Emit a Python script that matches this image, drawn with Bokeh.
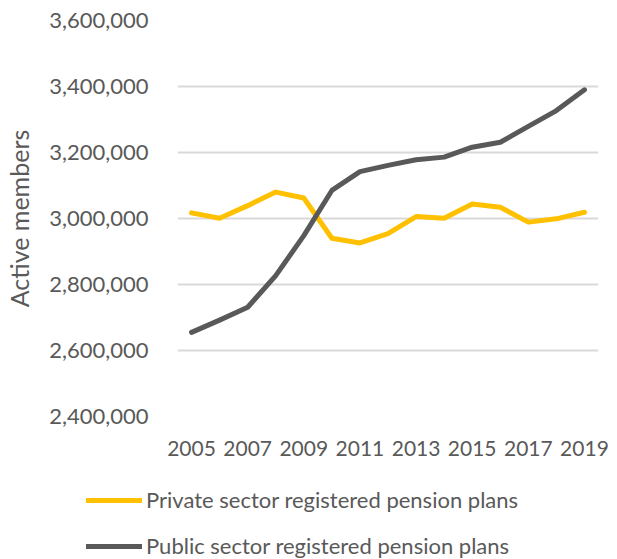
from bokeh.plotting import figure
from bokeh.layouts import column
from bokeh.models import FixedTicker, Legend, LegendItem, NumeralTickFormatter, Range1d
from bokeh.embed import file_html
from bokeh.resources import INLINE

years = [2005, 2006, 2007, 2008, 2009, 2010, 2011, 2012, 2013, 2014, 2015, 2016, 2017, 2018, 2019]
private = [3017000, 3001000, 3039000, 3080000, 3062000, 2940000, 2926000, 2954000, 3006000,
           3001000, 3044000, 3034000, 2989000, 2999000, 3019000]
public = [2655000, 2692000, 2731000, 2827000, 2948000, 3085000, 3142000, 3161000, 3178000,
          3186000, 3216000, 3231000, 3279000, 3327000, 3390000]
year_ticks = [2005, 2007, 2009, 2011, 2013, 2015, 2017, 2019]
y_ticks = [2400000, 2600000, 2800000, 3000000, 3200000, 3400000, 3600000]
series_names = ["Private sector registered pension plans", "Public sector registered pension plans"]
series_colors = ["#FFC000", "#595959"]

FONT = "Lato"
GREY = "#595959"

p = figure(width=609, height=475, output_backend="svg", toolbar_location=None,
           x_range=Range1d(2004.5, 2019.5), y_range=Range1d(2400000, 3600000),
           min_border_left=177, min_border_right=11, min_border_top=20, min_border_bottom=59)
p.outline_line_color = None
p.background_fill_color = "white"

p.line(years, private, line_color=series_colors[0], line_width=5, line_join="round", line_cap="round")
p.line(years, public, line_color=series_colors[1], line_width=5, line_join="round", line_cap="round")

p.xaxis.ticker = FixedTicker(ticks=year_ticks)
p.yaxis.ticker = FixedTicker(ticks=y_ticks)
p.yaxis.formatter = NumeralTickFormatter(format="0,0")
for ax in (p.xaxis[0], p.yaxis[0]):
    ax.axis_line_color = None
    ax.major_tick_line_color = None
    ax.minor_tick_line_color = None
    ax.major_tick_out = 0
    ax.major_tick_in = 0
    ax.major_label_text_font = FONT
    ax.major_label_text_color = GREY
p.xaxis.major_label_text_font_size = "21px"
p.yaxis.major_label_text_font_size = "22px"
p.xaxis.major_label_standoff = 24
p.yaxis.major_label_standoff = 29
p.yaxis.axis_label = "Active members"
p.yaxis.axis_label_text_font = FONT
p.yaxis.axis_label_text_font_size = "25px"
p.yaxis.axis_label_text_font_style = "normal"
p.yaxis.axis_label_text_color = GREY
p.yaxis.axis_label_standoff = 12

p.xgrid.grid_line_color = None
p.ygrid.grid_line_color = "#d9d9d9"
p.ygrid.grid_line_width = 2

# legend panel below the chart (its own figure; series lie outside its view)
lg = figure(width=609, height=84, output_backend="svg", toolbar_location=None,
            x_range=Range1d(0, 1), y_range=Range1d(0, 1),
            x_axis_location=None, y_axis_location=None,
            min_border_left=0, min_border_right=0, min_border_top=0, min_border_bottom=0)
lg.outline_line_color = None
lg.xgrid.grid_line_color = None
lg.ygrid.grid_line_color = None
items = []
for name, col, vals in zip(series_names, series_colors, [private, public]):
    r = lg.line(years, vals, line_color=col, line_width=5, line_cap="round")
    items.append(LegendItem(label=name, renderers=[r]))

for fig in (p, lg):
    if "frame_align" in fig.properties():
        fig.frame_align = False

legend = Legend(items=items, location=(86, 0), orientation="vertical")
legend.border_line_color = None
legend.background_fill_alpha = 0
legend.label_text_font = FONT
legend.label_text_font_size = "22px"
legend.label_text_color = GREY
legend.glyph_width = 56
legend.glyph_height = 26
legend.label_height = 26
legend.spacing = 19
legend.label_standoff = 4
legend.padding = 0
legend.margin = 0
lg.add_layout(legend, "center")

layout = column(p, lg, spacing=0)
open("out.html", "w").write(file_html(layout, INLINE))
